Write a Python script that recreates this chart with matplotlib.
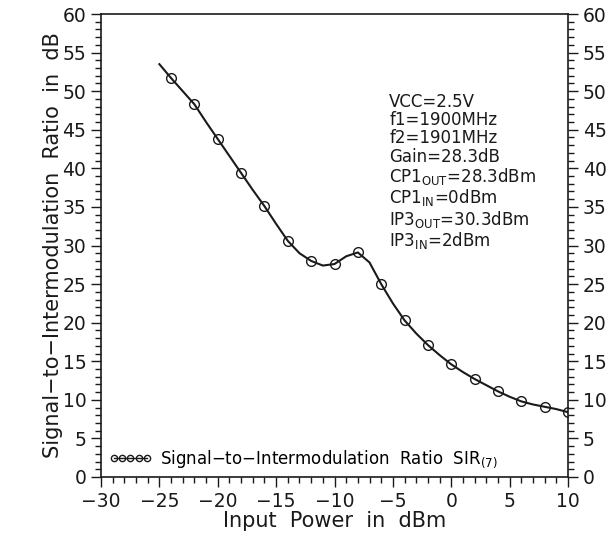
import matplotlib.pyplot as plt
import numpy as np
from matplotlib.ticker import MultipleLocator

plt.rcParams['font.family'] = ['DejaVu Sans']
plt.rcParams['mathtext.default'] = 'regular'

# measured points (markers)
pin = [-24, -22, -20, -18, -16, -14, -12, -10, -8, -6, -4, -2, 0, 2, 4, 6, 8, 10]
sir = [51.7, 48.3, 43.8, 39.4, 35.1, 30.6, 28.0, 27.6, 29.1, 25.0, 20.3, 17.1,
       14.6, 12.7, 11.1, 9.8, 9.1, 8.4]

# curve through the simulation (1 dB steps)
pin_line = list(range(-25, 11))
sir_line = [53.5, 51.7, 50.0, 48.3, 46.0, 43.8, 41.6, 39.4, 37.2, 35.1, 32.8, 30.6,
            29.0, 28.0, 27.4, 27.6, 28.6, 29.1, 27.8, 25.0, 22.5, 20.3, 18.6, 17.1,
            15.8, 14.6, 13.6, 12.7, 11.9, 11.1, 10.4, 9.8, 9.4, 9.1, 8.8, 8.4]

notes = ['VCC=2.5V', 'f1=1900MHz', 'f2=1901MHz', 'Gain=28.3dB',
         'CP1$_{OUT}$=28.3dBm', 'CP1$_{IN}$=0dBm', 'IP3$_{OUT}$=30.3dBm', 'IP3$_{IN}$=2dBm']

fig = plt.figure(figsize=(6.12, 5.35), dpi=100)
ax = fig.add_axes([101/612, 1-477/535, 467/612, 463/535])

ax.plot(pin_line, sir_line, color='#1a1a1a', lw=1.5)
ax.plot(pin, sir, 'o', mfc='none', mec='#1a1a1a', ms=7, mew=1.0)
# legend handle
ax.plot([], [], '-o', color='#1a1a1a', mfc='none', ms=4.5, lw=1.0,
        label='Signal\u2212to\u2212Intermodulation  Ratio  SIR$_{(7)}$')

ax.set_xlim(-30, 10)
ax.set_ylim(0, 60)
ax.xaxis.set_major_locator(MultipleLocator(5))
ax.xaxis.set_minor_locator(MultipleLocator(1))
ax.yaxis.set_major_locator(MultipleLocator(5))
ax.yaxis.set_minor_locator(MultipleLocator(1))
ax.tick_params(which='both', direction='out', top=False, right=True,
               labelright=True, labelsize=13.5, colors='#1a1a1a', width=1.0)
ax.tick_params(which='major', length=7)
ax.tick_params(which='minor', length=4)
for s in ax.spines.values():
    s.set_linewidth(1.2)
    s.set_color('#1a1a1a')

ax.set_xlabel('Input  Power  in  dBm', fontsize=15, labelpad=0, color='#1a1a1a')
ax.set_ylabel('Signal\u2212to\u2212Intermodulation  Ratio  in  dB', fontsize=15,
              labelpad=0, color='#1a1a1a')

ax.text(0.617, 0.83, '\n'.join(notes), transform=ax.transAxes, fontsize=12,
        va='top', ha='left', linespacing=1.02, color='#1a1a1a')

ax.legend(loc='lower left', frameon=False, numpoints=5, handlelength=2.6,
          fontsize=12, borderaxespad=0.15, borderpad=0.3, handletextpad=0.5)

fig.savefig('out.png', dpi=100)
